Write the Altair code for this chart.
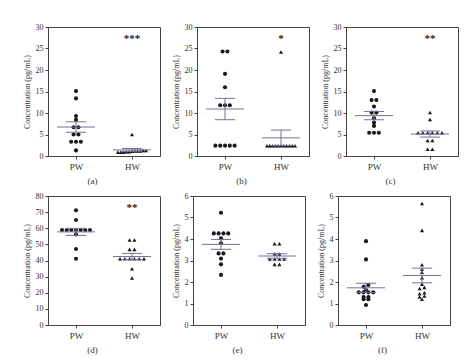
import altair as alt
import pandas as pd

# ---------------- data ----------------
panel_labels = ["(a)", "(b)", "(c)", "(d)", "(e)", "(f)"]
group_names = ["PW", "HW"]
y_max = [30, 30, 30, 80, 6, 6]
y_step = [5, 5, 5, 10, 1, 1]
sig_marks = ["***", "*", "**", "**", "", ""]

a_pw = [15.1, 13.4, 9.3, 8.4, 6.7, 6.7, 5.0, 5.0, 3.3, 3.3, 3.3, 1.3]
a_hw = [5.0, 0.9, 0.9, 0.9, 1.0, 1.0, 1.1, 1.2, 1.2, 1.3, 1.3, 1.2]

b_pw = [24.3, 24.3, 19.1, 16.0, 11.8, 11.8, 11.8, 2.4, 2.4, 2.4, 2.4, 2.4]
b_hw = [24.2, 2.4, 2.4, 2.4, 2.4, 2.4, 2.4, 2.4, 2.4, 2.4, 2.4, 2.4]

c_pw = [15.1, 13.0, 13.0, 11.5, 10.1, 10.1, 8.8, 7.8, 7.0, 5.4, 5.4, 5.4]
c_hw = [10.1, 8.5, 5.4, 5.4, 5.4, 5.4, 5.4, 5.4, 3.6, 3.6, 1.55, 1.55]

d_pw = [71.1, 65.1, 58.9, 58.9, 58.9, 58.9, 58.9, 58.9, 58.9, 56.2, 47.1, 41.1]
d_hw = [52.7, 52.7, 46.9, 46.9, 41.1, 41.1, 41.1, 41.1, 41.1, 41.1, 34.9, 29.1]

e_pw = [5.22, 4.26, 4.26, 4.26, 4.26, 4.03, 3.80, 3.33, 3.33, 3.09, 2.82, 2.33]
e_hw = [3.78, 3.78, 3.30, 3.30, 3.07, 3.07, 3.07, 3.07, 2.82, 2.82]

f_pw = [3.9, 3.05, 1.86, 1.78, 1.62, 1.52, 1.52, 1.52, 1.52, 1.3, 1.3, 1.2, 1.2, 0.93]
f_hw = [5.65, 4.4, 2.8, 2.6, 2.45, 2.2, 1.9, 1.75, 1.7, 1.5, 1.45, 1.35, 1.3, 1.2]

series = [(a_pw, a_hw), (b_pw, b_hw), (c_pw, c_hw),
          (d_pw, d_hw), (e_pw, e_hw), (f_pw, f_hw)]

# ---------------- layout / style ----------------
W, H = 112, 129
SERIF = "Liberation Serif"
LINE = "#72729c"
INK = "#1a1a1a"


def swarm_offsets(vals, ymax):
    """Spread near-tied values side by side (derived from the data)."""
    order = sorted(range(len(vals)), key=lambda i: vals[i])
    tol = ymax * 0.015
    clusters = []
    for i in order:
        if clusters and vals[i] - vals[clusters[-1][0]] <= tol:
            clusters[-1].append(i)
        else:
            clusters.append([i])
    px_per_unit = W / 2.0
    off = [0.0] * len(vals)
    for c in clusters:
        n = len(c)
        step = min(4.8, 28.0 / (n - 1)) if n > 1 else 0.0
        for k, i in enumerate(c):
            off[i] = (k - (n - 1) / 2.0) * step / px_per_unit
    return off


def panel(idx):
    pw, hw = series[idx]
    ymax = y_max[idx]
    rows = []
    for gi, (g, vals) in enumerate(zip(group_names, (pw, hw)), start=1):
        offs = swarm_offsets(vals, ymax)
        for v, o in zip(vals, offs):
            rows.append({"group": g, "gidx": gi, "value": v, "xpos": gi + o})
    df = pd.DataFrame(rows)

    xscale = alt.Scale(domain=[0.5, 2.5], nice=False, zero=False)
    yscale = alt.Scale(domain=[0, ymax], nice=False)
    xaxis = alt.Axis(values=[1, 2], labelExpr="datum.value == 1 ? 'PW' : 'HW'",
                     title=panel_labels[idx], titleX=44, titlePadding=5,
                     labelPadding=3, labelFontSize=9, titleFontSize=9)
    yaxis = alt.Axis(values=list(range(0, ymax + 1, y_step[idx])),
                     title="Concentration (pg/mL)", titlePadding=4, labelPadding=2)

    def X(f):
        return alt.X(f, scale=xscale, axis=xaxis)

    def Y(f):
        return alt.Y(f, scale=yscale, axis=yaxis)

    base = alt.Chart(df)
    pts = base.mark_point(filled=True, opacity=1, color=INK, size=17).encode(
        x=X("xpos:Q"),
        y=Y("value:Q"),
        shape=alt.Shape("group:N", scale=alt.Scale(domain=group_names,
                        range=["circle", "triangle-up"]), legend=None),
    )

    stats = base.transform_aggregate(
        mean="mean(value)", se="stderr(value)", groupby=["group", "gidx"]
    ).transform_calculate(
        lo="datum.mean - datum.se", hi="datum.mean + datum.se",
        ml="datum.gidx - 0.34", mr="datum.gidx + 0.34",
        cl="datum.gidx - 0.18", cr="datum.gidx + 0.18",
    )
    rstyle = dict(color=LINE, strokeWidth=1)
    mean_r = stats.mark_rule(**rstyle).encode(x=X("ml:Q"), x2="mr:Q", y=Y("mean:Q"))
    hi_r = stats.mark_rule(**rstyle).encode(x=X("cl:Q"), x2="cr:Q", y=Y("hi:Q"))
    lo_r = stats.mark_rule(**rstyle).encode(x=X("cl:Q"), x2="cr:Q", y=Y("lo:Q"))
    v_r = stats.mark_rule(**rstyle).encode(x=X("gidx:Q"), y=Y("lo:Q"), y2="hi:Q")

    layers = [pts, mean_r, hi_r, lo_r, v_r]
    if sig_marks[idx]:
        sdf = pd.DataFrame({"label": [sig_marks[idx]], "gidx": [2], "top": [ymax]})
        star = alt.Chart(sdf).transform_calculate(
            ypos="datum.top * 0.905"
        ).mark_text(font=SERIF, fontSize=11, fontWeight="bold", fill=INK,
                    baseline="middle").encode(
            x=X("gidx:Q"), y=Y("ypos:Q"), text="label:N")
        layers.append(star)
    return alt.layer(*layers).properties(width=W, height=H)


row1 = alt.hconcat(panel(0), panel(1), panel(2), spacing=10)
row2 = alt.hconcat(panel(3), panel(4), panel(5), spacing=10)

chart = alt.vconcat(row1, row2, spacing=5).properties(
    padding={"left": 14, "top": 14, "right": 4, "bottom": 4},
    background="white",
).configure(font=SERIF).configure_view(
    stroke="#444444", strokeWidth=1
).configure_axis(
    grid=False, domainColor="#444444", tickColor="#444444", tickSize=3,
    labelColor="#333333", titleColor="#333333",
    labelFont=SERIF, titleFont=SERIF, labelFontSize=8, titleFontSize=8,
    titleFontWeight="normal",
)

chart.save("out.html", embed_options={"renderer": "svg", "actions": False})
